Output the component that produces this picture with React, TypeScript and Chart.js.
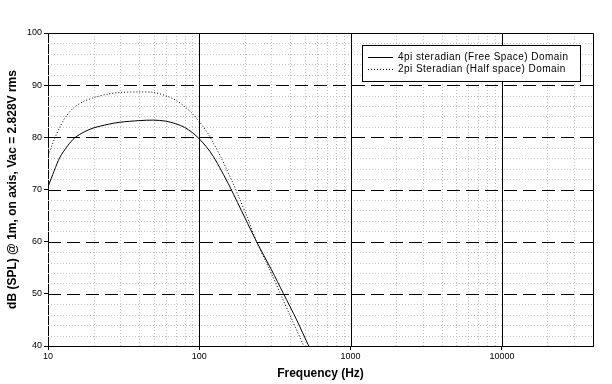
import React, { useEffect, useRef } from 'react';
import { Chart, registerables } from 'chart.js';

Chart.register(...registerables);

// ---- data ----
const freqFree = [10, 11, 12, 13.5, 15, 17.5, 20, 25, 30, 40, 50, 60, 70, 80, 90, 100, 112, 124, 140, 160, 200, 239, 300, 359, 440, 525, 560];
const dbFree = [70.5, 73.6, 76.2, 78.4, 79.9, 81.1, 81.8, 82.5, 82.9, 83.2, 83.3, 83.1, 82.6, 81.9, 80.9, 79.7, 78.1, 76.3, 73.6, 70.4, 64.6, 60.0, 54.6, 50.1, 45.0, 40.2, 38.6];
const freqHalf = [10, 11, 12, 13, 14.7, 17, 20, 25, 30, 40, 50, 61, 70, 80, 91, 100, 112, 124, 140, 152, 167, 181, 210, 239, 290, 345, 410, 487, 520];
const dbHalf = [76.6, 79.6, 82.0, 83.8, 85.6, 86.8, 87.6, 88.3, 88.6, 88.7, 88.6, 87.9, 87.1, 85.9, 84.4, 83.0, 81.1, 78.9, 76.0, 73.8, 71.2, 68.8, 64.3, 60.0, 54.8, 49.9, 45.0, 40.2, 38.4];

const labelFree = '4pi steradian (Free Space) Domain';
const labelHalf = '2pi Steradian (Half space) Domain';

const xTickValues = [10, 100, 1000, 10000];
const xMin = 10;
const xMax = 40000;
const yMin = 40;
const yMax = 100;
const yMajorStep = 10;
const yMinorStep = 2;
const minorMultipliers = [2, 3, 4, 5, 6, 7, 8, 9];

const xTitle = 'Frequency (Hz)';
const yTitle = 'dB (SPL) @ 1m, on axis, Vac = 2.828V rms';

const FONT = '"Liberation Sans", Arial, sans-serif';

const gridPlugin = {
  id: 'customGrid',
  beforeDatasetsDraw(chart: any) {
    const { ctx, chartArea: a, scales } = chart;
    const x = scales.x;
    const y = scales.y;
    ctx.save();
    ctx.beginPath();
    ctx.rect(a.left, a.top, a.right - a.left, a.bottom - a.top);
    ctx.clip();
    ctx.lineWidth = 1;
    // minor dotted grid
    ctx.strokeStyle = '#c4c4c4';
    ctx.setLineDash([1, 2]);
    for (const d of xTickValues) {
      for (const m of minorMultipliers) {
        const v = d * m;
        if (v >= xMax) continue;
        const px = Math.round(x.getPixelForValue(v)) + 0.5;
        ctx.beginPath();
        ctx.moveTo(px, a.top);
        ctx.lineTo(px, a.bottom);
        ctx.stroke();
      }
    }
    for (let v = yMin + yMinorStep; v < yMax; v += yMinorStep) {
      if (v % yMajorStep === 0) continue;
      const py = Math.round(y.getPixelForValue(v)) + 0.5;
      ctx.beginPath();
      ctx.moveTo(a.left, py);
      ctx.lineTo(a.right, py);
      ctx.stroke();
    }
    // major dashed horizontal
    ctx.strokeStyle = '#000';
    ctx.setLineDash([13, 6]);
    for (let v = yMin + yMajorStep; v < yMax; v += yMajorStep) {
      const py = Math.round(y.getPixelForValue(v)) + 0.5;
      ctx.beginPath();
      ctx.moveTo(a.left, py);
      ctx.lineTo(a.right, py);
      ctx.stroke();
    }
    // major solid vertical
    ctx.setLineDash([]);
    for (const v of xTickValues) {
      if (v <= xMin) continue;
      const px = Math.round(x.getPixelForValue(v)) + 0.5;
      ctx.beginPath();
      ctx.moveTo(px, a.top);
      ctx.lineTo(px, a.bottom);
      ctx.stroke();
    }
    ctx.restore();
  },
  afterDatasetsDraw(chart: any) {
    const { ctx, chartArea: a } = chart;
    ctx.save();
    ctx.setLineDash([]);
    ctx.lineWidth = 1;
    ctx.strokeStyle = '#000';
    // plot border (top & right)
    ctx.beginPath();
    ctx.moveTo(a.left, a.top + 0.5);
    ctx.lineTo(a.right + 0.5, a.top + 0.5);
    ctx.lineTo(a.right + 0.5, a.bottom);
    ctx.stroke();

    // legend
    const bx = a.right - 231;
    const by = a.top + 12;
    const bw = 218;
    const bh = 36;
    ctx.fillStyle = '#fff';
    ctx.fillRect(bx, by, bw, bh);
    ctx.strokeRect(bx + 0.5, by + 0.5, bw, bh);
    const dsets = chart.data.datasets;
    dsets.forEach((ds: any, i: number) => {
      const ly = by + 11.5 + i * 12.5;
      const py = Math.round(ly) + 0.5;
      ctx.strokeStyle = '#000';
      ctx.setLineDash(ds.borderDash || []);
      ctx.beginPath();
      ctx.moveTo(bx + 6, py);
      ctx.lineTo(bx + 31, py);
      ctx.stroke();
      ctx.setLineDash([]);
      ctx.fillStyle = '#000';
      ctx.font = `10px ${FONT}`;
      try { (ctx as any).letterSpacing = '0.45px'; } catch (e) {}
      ctx.textBaseline = 'middle';
      ctx.textAlign = 'left';
      ctx.fillText(ds.label, bx + 36, py);
      try { (ctx as any).letterSpacing = '0px'; } catch (e) {}
    });
    ctx.restore();
  },
};

export default function App() {
  const ref = useRef<HTMLCanvasElement | null>(null);

  useEffect(() => {
    if (!ref.current) return;
    const chart = new Chart(ref.current, {
      type: 'line',
      data: {
        datasets: [
          {
            label: labelFree,
            data: freqFree.map((f, i) => ({ x: f, y: dbFree[i] })),
            borderColor: '#000',
            borderWidth: 1,
            pointRadius: 0,
            tension: 0.3,
            fill: false,
          },
          {
            label: labelHalf,
            data: freqHalf.map((f, i) => ({ x: f, y: dbHalf[i] })),
            borderColor: '#000',
            borderWidth: 1,
            borderDash: [1, 2],
            pointRadius: 0,
            tension: 0.3,
            fill: false,
          },
        ],
      },
      options: {
        animation: false,
        responsive: false,
        devicePixelRatio: 1,
        layout: { padding: { top: 33, right: 19, left: 0, bottom: 0 } },
        plugins: {
          legend: { display: false },
          tooltip: { enabled: false },
        },
        scales: {
          x: {
            type: 'logarithmic',
            min: xMin,
            max: xMax,
            position: 'bottom',
            afterBuildTicks: (s: any) => {
              s.ticks = xTickValues.map((v) => ({ value: v }));
            },
            afterFit: (s: any) => {
              s.height = 38;
            },
            ticks: {
              autoSkip: false,
              maxRotation: 0,
              color: '#000',
              padding: 1,
              font: { family: FONT, size: 9 },
              callback: (v: any) => String(v),
            },
            grid: {
              drawOnChartArea: false,
              drawTicks: true,
              tickLength: 4,
              color: '#000',
            },
            border: { display: true, color: '#000', width: 1 },
            title: {
              display: true,
              text: xTitle,
              color: '#000',
              font: { family: FONT, size: 12, weight: 'bold' },
              padding: { top: 0, bottom: 3 },
            },
          },
          y: {
            type: 'linear',
            min: yMin,
            max: yMax,
            afterFit: (s: any) => {
              s.width = 48;
            },
            ticks: {
              stepSize: yMajorStep,
              color: '#000',
              padding: 2,
              font: { family: FONT, size: 9 },
            },
            grid: {
              drawOnChartArea: false,
              drawTicks: true,
              tickLength: 4,
              color: '#000',
            },
            border: { display: true, color: '#000', width: 1 },
            title: {
              display: true,
              text: yTitle,
              color: '#000',
              font: { family: FONT, size: 12, weight: 'bold' },
              padding: { top: 5, bottom: 0 },
            },
          },
        },
      },
      plugins: [gridPlugin],
    } as any);
    return () => chart.destroy();
  }, []);

  return (
    <div style={{ position: 'absolute', left: 0, top: 0, width: 612, height: 384, background: '#fff' }}>
      <canvas ref={ref} width={612} height={384} style={{ display: 'block' }} />
    </div>
  );
}
